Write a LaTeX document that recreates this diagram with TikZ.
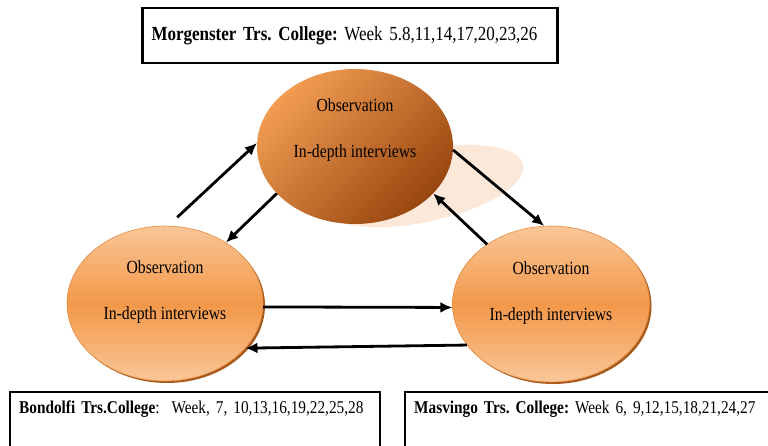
\documentclass[tikz,border=0pt]{standalone}
\usepackage{fontspec}
\setmainfont{Liberation Serif}[FakeStretch=0.85]
\usetikzlibrary{shapes.geometric,arrows.meta}
\definecolor{topL}{HTML}{F29C52}
\definecolor{topD}{HTML}{98460F}
\definecolor{sideL}{HTML}{F9C697}
\definecolor{sideM}{HTML}{F3984A}
\definecolor{rim}{HTML}{E28C42}
\definecolor{shade}{HTML}{A85A1C}
\definecolor{ghost}{HTML}{FCE8D9}
\tikzset{
  site/.style={ellipse, minimum width=196pt, minimum height=155pt, inner sep=0pt, align=center,
    font=\fontsize{18.5}{20}\selectfont},
  sidesite/.style={site, draw=rim, line width=0.6pt, top color=sideL, bottom color=sideL, middle color=sideM,
    text depth=26pt},
  weekbox/.style={draw, line width=2.4pt, rectangle, align=left, anchor=north west, inner sep=9pt,
    font=\fontsize{18}{20}\selectfont},
  arr/.style={line width=2.8pt, -{Latex[length=12pt,width=11pt]}}
}
\begin{document}
\frenchspacing
\begin{tikzpicture}[x=1pt,y=-1pt]
\useasboundingbox (0,0) rectangle (768,445);
\clip (0,0) rectangle (768,445);
\fill[white] (0,0) rectangle (768,445);
% light halo behind the top site
\node[ellipse, fill=ghost, minimum width=205pt, minimum height=72pt, rotate=12] (halo) at (423,186){};
\node[site, top color=topL, bottom color=topD, shading angle=45, text depth=37pt] (top) at (355,146.5)
  {Observation\\[26pt]In-depth interviews};
% side sites with their brown rim
\node[ellipse, fill=shade, minimum width=196pt, minimum height=155pt] (leftrim) at (167,305.5){};
\node[sidesite] (left) at (165,303.5){Observation\\[26pt]In-depth interviews};
\node[ellipse, fill=shade, minimum width=197pt, minimum height=156pt] (rightrim) at (553,306){};
\node[sidesite, minimum width=197pt, minimum height=156pt] (right) at (551,304){Observation\\[26pt]In-depth interviews};
% week boxes
\node[weekbox, minimum width=415pt, minimum height=55pt, anchor=center, text width=397pt, font=\fontsize{20}{22}\selectfont]
  (mor) at (350,35.5){\textbf{Morgenster Trs. College:} Week 5.8,11,14,17,20,23,26};
\node[weekbox, text width=352pt, text depth=60pt] (bon) at (9,391)
  {\textbf{Bondolfi Trs.College}:\ \ Week, 7, 10,13,16,19,22,25,28};
\node[weekbox, text width=380pt, text depth=60pt] (mas) at (404,391)
  {\textbf{Masvingo Trs. College:} Week 6, 9,12,15,18,21,24,27};
% exchanges
\draw[arr] ([yshift=9pt]left.81) -- (top.178);
\draw[arr] (top.211) -- (left.45);
\draw[arr] (top.-2) -- (right.95);
\draw[arr] (right.137) -- (top.329);
\draw[arr] (left.-2) -- (right.182);
\draw[arr] (right.206) -- (left.-29);
\end{tikzpicture}
\end{document}
